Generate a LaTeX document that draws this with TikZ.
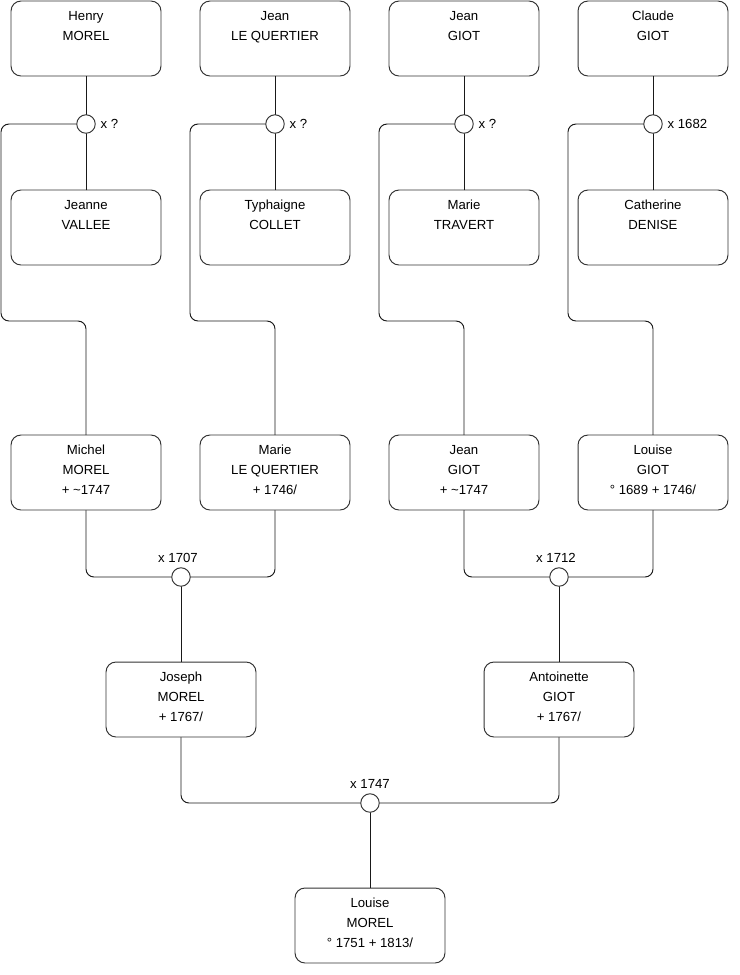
\documentclass[tikz,border=0pt]{standalone}
\usepackage{fontspec}
\setmainfont{Liberation Sans}

\begin{document}
\begin{tikzpicture}[x=0.02cm,y=-0.02cm,line cap=round,line join=round,
  every label/.style={inner sep=2.6pt,font=\fontsize{7.5}{11.4}\selectfont},
  person/.style={draw=black!80,line width=0.55pt,rounded corners=0.2cm,
    minimum width=3cm,minimum height=1.5cm,inner sep=0pt,align=center,
    font=\fontsize{7.5}{11.4}\selectfont},
  union/.style={draw=black!80,fill=white,line width=0.55pt,circle,
    minimum size=0.37cm,inner sep=0pt},
  link/.style={draw=black!90,line width=0.55pt,rounded corners=0.16cm}]
  \useasboundingbox (0,0) rectangle (740,975);

  % first generation
  \node[person] (henry) at (86,38.5) {Henry\\MOREL\\\strut};
  \node[person] (jeanlq) at (275,38.5) {Jean\\LE QUERTIER\\\strut};
  \node[person] (jeang) at (464,38.5) {Jean\\GIOT\\\strut};
  \node[person] (claude) at (653,38.5) {Claude\\GIOT\\\strut};
  \node[person] (jeanne) at (86,227.5) {Jeanne\\VALLEE\\\strut};
  \node[person] (typhaigne) at (275,227.5) {Typhaigne\\COLLET\\\strut};
  \node[person] (mariet) at (464,227.5) {Marie\\TRAVERT\\\strut};
  \node[person] (catherine) at (653,227.5) {Catherine\\DENISE\\\strut};

  \node[union,label=right:{x ?}] (u1) at (86,124) {};
  \node[union,label=right:{x ?}] (u2) at (275,124) {};
  \node[union,label=right:{x ?}] (u3) at (464,124) {};
  \node[union,label=right:{x 1682}] (u4) at (653,124) {};

  % second generation
  \node[person] (michel) at (86,472.5) {Michel\\MOREL\\+ \textasciitilde1747\strut};
  \node[person] (marie) at (275,472.5) {Marie\\LE QUERTIER\\+ 1746/\strut};
  \node[person] (jean) at (464,472.5) {Jean\\GIOT\\+ \textasciitilde1747\strut};
  \node[person] (louiseg) at (653,472.5) {Louise\\GIOT\\° 1689 + 1746/\strut};

  \node[union,label={[xshift=-0.06cm]above:x 1707}] (u5) at (181,577) {};
  \node[union,label={[xshift=-0.06cm]above:x 1712}] (u6) at (559,577) {};

  % third generation
  \node[person] (joseph) at (181,699.5) {Joseph\\MOREL\\+ 1767/\strut};
  \node[person] (antoinette) at (559,699.5) {Antoinette\\GIOT\\+ 1767/\strut};

  \node[union,label=above:{x 1747}] (u7) at (370,803) {};

  \node[person] (louise) at (370,925.5) {Louise\\MOREL\\° 1751 + 1813/\strut};

  % bends of the side lines
  \coordinate (b1) at (1,321);
  \coordinate (b2) at (190,321);
  \coordinate (b3) at (379,321);
  \coordinate (b4) at (568,321);

  \draw[link] (henry) -- (u1) -- (jeanne);
  \draw[link] (jeanlq) -- (u2) -- (typhaigne);
  \draw[link] (jeang) -- (u3) -- (mariet);
  \draw[link] (claude) -- (u4) -- (catherine);

  \draw[link] (u1.west) -| (b1) -| (michel.north);
  \draw[link] (u2.west) -| (b2) -| (marie.north);
  \draw[link] (u3.west) -| (b3) -| (jean.north);
  \draw[link] (u4.west) -| (b4) -| (louiseg.north);

  \draw[link] (michel.south) |- (u5.west);
  \draw[link] (marie.south) |- (u5.east);
  \draw[link] (jean.south) |- (u6.west);
  \draw[link] (louiseg.south) |- (u6.east);
  \draw[link] (u5) -- (joseph);
  \draw[link] (u6) -- (antoinette);

  \draw[link] (joseph.south) |- (u7.west);
  \draw[link] (antoinette.south) |- (u7.east);
  \draw[link] (u7) -- (louise);
\end{tikzpicture}
\end{document}
